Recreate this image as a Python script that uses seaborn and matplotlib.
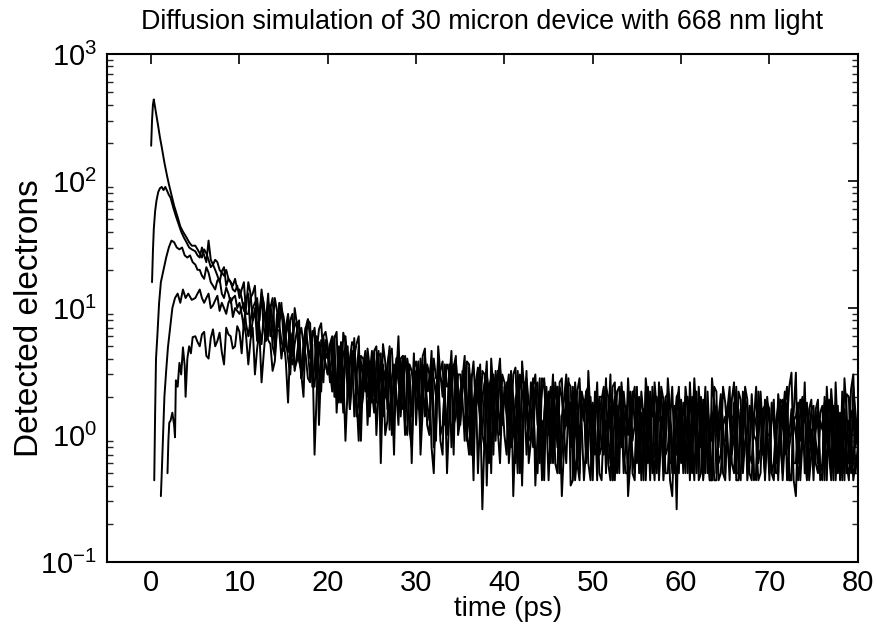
import numpy as np
import pandas as pd
import matplotlib
matplotlib.use("Agg")
import matplotlib.pyplot as plt
import seaborn as sns
from matplotlib.ticker import LogLocator

# ---------------- data ----------------
title = "Diffusion simulation of 30 micron device with 668 nm light"
x_label = "time (ps)"
y_label = "Detected electrons"
x_ticks = [0, 10, 20, 30, 40, 50, 60, 70, 80]

# early (rising / peak) parts of the five curves
a_t = [0.0, 0.1, 0.2, 0.3, 0.4, 0.6, 0.8, 1.0, 1.2, 1.5, 1.8, 2.0, 2.3, 2.6, 3.0, 3.3, 3.6, 4.0, 4.3, 4.6]
a_v = [190, 300, 400, 440, 400, 330, 270, 220, 185, 140, 110, 95, 78, 64, 52, 44, 40, 36, 33, 31]
b_t = [0.1, 0.2, 0.3, 0.45, 0.6, 0.8, 1.0, 1.2, 1.4, 1.6, 1.8, 2.0, 2.2, 2.5, 2.8, 3.1, 3.4, 3.7, 4.0, 4.3, 4.6]
b_v = [16, 28, 42, 58, 70, 82, 88, 90, 85, 90, 84, 78, 74, 62, 53, 46, 40, 36, 33, 30, 29]
c_t = [0.35, 0.45, 0.55, 0.7, 0.9, 1.1, 1.4, 1.7, 2.0, 2.3, 2.6, 2.9, 3.2, 3.5, 3.8, 4.1, 4.4, 4.7]
c_v = [0.44, 1.5, 4.0, 6.0, 11, 16, 20, 25, 30, 34, 33, 30, 29, 30, 26, 25, 26, 23]
d_t = [1.1, 1.2, 1.3, 1.4, 1.5, 1.7, 1.9, 2.1, 2.4, 2.7, 3.0, 3.3, 3.6, 3.9, 4.2, 4.6]
d_v = [0.33, 0.5, 0.8, 1.3, 2.0, 3.2, 4.9, 6.5, 10, 12, 13, 11, 14, 12, 13, 11.6]
e_t = [1.85, 1.95, 2.05, 2.2, 2.4, 2.6, 2.7, 2.8, 3.0, 3.2, 3.4, 3.6, 3.8, 3.9, 4.1, 4.3, 4.5, 4.7]
e_v = [0.5, 0.9, 1.25, 1.3, 1.5, 1.2, 0.96, 2.7, 2.4, 3.7, 3.0, 4.9, 3.5, 2.0, 4.0, 5.0, 4.4, 5.9]

# noisy tails: first list sampled at 5.0, 5.5, ... 80.0 ps; second list at 5.25, 5.75, ... 79.75 ps
tail_start, tail_step, tail_offset = 5.0, 0.5, 0.25
a_tail = [31, 27, 29, 24, 22, 23, 19, 20, 16, 17,
          14, 9.5, 16, 8, 11, 13, 6.5, 10, 6, 11,
          7.5, 4.5, 9, 3.8, 7, 4.2, 2.6, 7, 3.2, 6,
          5, 2.2, 6.5, 3, 4.8, 1.6, 4.2, 6, 2, 3.8,
          1.8, 5, 3.2, 1.0, 4.2, 2.2, 6, 1.6, 3.2, 0.8,
          3.8, 1.6, 4.8, 1.0, 2.8, 4.0, 0.7, 2.4, 4.6, 1.4,
          3.0, 0.9, 3.6, 1.8, 0.5, 3.2, 1.4, 4.0, 1.0, 2.6,
          2.0, 0.6, 3.0, 1.2, 3.8, 0.7, 1.9, 0.4, 2.8, 1.5,
          1.0, 3.0, 0.5, 2.0, 1.2, 0.4, 2.6, 0.8, 1.8, 3.2,
          0.6, 1.8, 0.44, 2.4, 1.0, 2.0, 0.5, 1.4, 2.8, 0.7,
          1.6, 0.5, 2.2, 0.44, 1.3, 2.6, 0.6, 1.7, 0.33, 2.0,
          0.9, 2.4, 0.5, 1.5, 0.44, 1.9, 0.7, 2.8, 0.5, 1.4,
          0.44, 1.8, 1.0, 0.5, 2.2, 0.6, 1.4, 0.44, 1.9, 0.5,
          1.2, 0.44, 1.7, 0.5, 2.4, 0.44, 1.0, 1.6, 0.5, 1.3,
          0.44, 1.9, 0.6, 0.44, 1.4, 2.6, 0.5, 1.1, 0.44, 1.6,
          0.8]
a_tail2 = [29, 25, 27, 21, 24, 20, 18, 17, 15, 14,
           12, 10, 13, 9, 8, 11, 7.5, 12, 7, 9,
           5, 8, 3.4, 6, 5.2, 2.8, 5.8, 4.4, 2.2, 6.5,
           3.2, 5.8, 1.8, 4.4, 3.6, 2.6, 5.2, 1.5, 4.0, 2.8,
           4.6, 2.0, 3.6, 1.3, 4.8, 2.8, 1.8, 4.2, 1.1, 3.4,
           2.2, 4.2, 1.2, 3.4, 2.0, 0.9, 3.6, 2.6, 1.2, 3.0,
           1.9, 3.8, 0.7, 2.6, 1.4, 3.0, 0.6, 2.2, 3.2, 1.2,
           2.6, 1.1, 3.4, 0.5, 2.2, 1.4, 2.8, 1.0, 0.44, 2.4,
           1.5, 0.6, 2.4, 1.1, 2.8, 0.44, 1.7, 2.2, 0.7, 1.4,
           2.2, 0.5, 1.3, 2.0, 0.44, 1.6, 2.6, 0.8, 1.2, 0.5,
           1.9, 0.8, 1.4, 2.4, 0.5, 1.0, 1.8, 0.44, 1.2, 2.2,
           0.6, 1.6, 0.9, 2.2, 0.5, 1.3, 0.44, 1.8, 1.0, 0.5,
           1.5, 0.7, 2.4, 0.44, 1.2, 1.7, 0.5, 1.4, 0.8, 2.0,
           0.5, 1.3, 0.8, 1.8, 0.44, 1.4, 0.6, 2.0, 0.5, 1.0,
           1.6, 0.5, 1.2, 1.9, 0.44, 1.0, 2.2, 0.6, 1.5, 0.5]
b_tail = [28, 25, 26, 34, 22, 18, 19.5, 15, 16, 13.5,
          12, 16, 9, 13, 7, 14, 8, 6, 12, 7,
          5.5, 9, 4.2, 7.5, 3.2, 7, 5.8, 2.4, 6.8, 4.2,
          3.0, 6, 2.6, 1.8, 5.4, 3.6, 1.4, 5, 3.4, 2.0,
          4.6, 2.4, 1.3, 3.8, 3.0, 0.7, 4.2, 2.6, 3.6, 1.6,
          1.2, 3.2, 4.2, 2.2, 0.8, 3.4, 2.6, 1.0, 3.0, 3.8,
          1.5, 2.8, 0.7, 3.8, 2.0, 1.0, 3.0, 0.5, 2.2, 3.4,
          1.0, 2.6, 1.6, 0.5, 2.2, 3.2, 0.9, 2.0, 0.6, 2.6,
          1.8, 0.6, 2.4, 1.4, 3.0, 0.8, 0.44, 2.2, 1.3, 0.6,
          1.8, 2.6, 0.8, 0.5, 1.7, 0.6, 2.4, 1.2, 0.33, 1.9,
          0.6, 1.5, 2.8, 0.9, 0.44, 1.7, 1.1, 0.5, 2.4, 0.7,
          1.6, 0.5, 1.2, 2.2, 0.7, 0.44, 1.6, 0.9, 2.2, 0.5,
          1.4, 0.6, 2.6, 0.5, 1.5, 0.44, 2.1, 0.9, 0.5, 1.7,
          0.5, 1.9, 0.8, 1.4, 0.44, 1.1, 3.1, 0.6, 1.3, 0.44,
          1.4, 0.6, 1.7, 2.4, 0.5, 0.9, 1.4, 0.44, 2.0, 0.6,
          1.0]
b_tail2 = [26, 30, 23, 24, 20, 16, 21, 17, 14, 15,
           14, 9, 12, 15, 8, 10, 13, 7, 9.5, 11,
           7, 6, 10, 3.8, 5.4, 8.2, 3.0, 4.6, 7.6, 3.6,
           5.2, 2.2, 4.8, 6.4, 2.0, 4.2, 2.8, 0.9, 4.6, 3.0,
           2.0, 3.6, 5.2, 1.6, 2.4, 4.0, 1.4, 3.4, 2.0, 4.4,
           3.0, 1.8, 2.4, 4.6, 1.1, 2.8, 1.8, 3.6, 0.7, 2.4,
           3.2, 1.0, 2.6, 1.6, 3.6, 0.8, 2.2, 3.0, 1.4, 2.0,
           0.7, 2.4, 1.3, 3.0, 1.6, 0.6, 2.4, 1.4, 2.8, 1.1,
           2.4, 1.0, 0.5, 1.9, 1.3, 2.4, 0.7, 1.6, 2.2, 0.44,
           1.2, 0.7, 2.0, 1.5, 0.44, 2.2, 0.9, 1.7, 0.6, 2.4,
           1.2, 0.44, 1.8, 0.8, 1.4, 2.2, 0.5, 1.3, 0.7, 1.9,
           0.9, 2.0, 0.5, 1.3, 1.8, 0.7, 1.1, 2.4, 0.44, 1.2,
           0.8, 1.9, 0.5, 1.2, 2.0, 0.7, 1.0, 0.44, 1.6, 1.1,
           1.4, 0.6, 1.1, 2.2, 0.8, 1.5, 0.44, 1.2, 1.8, 0.7,
           0.9, 1.5, 0.44, 1.1, 1.7, 0.6, 1.2, 2.1, 0.5, 1.3]
c_tail = [22, 20, 17, 19, 15, 16.5, 13, 14.5, 11, 12.5,
          11, 7, 13, 8, 5.5, 12, 5.5, 9.5, 4.2, 9,
          8.5, 4.0, 6.2, 7.8, 2.8, 5.6, 7.6, 3.6, 1.2, 5.8,
          4.6, 2.6, 1.5, 5.4, 4.0, 2.2, 5.8, 1.8, 4.0, 4.8,
          2.2, 3.8, 0.6, 3.2, 5.0, 1.5, 2.6, 4.2, 1.0, 3.2,
          2.4, 0.7, 3.4, 2.8, 1.4, 5.0, 2.0, 0.5, 3.2, 2.2,
          2.2, 4.2, 1.4, 0.7, 2.8, 2.0, 0.4, 2.8, 3.2, 1.0,
          2.6, 1.2, 0.33, 2.0, 1.0, 2.8, 1.4, 2.4, 0.8, 0.44,
          1.2, 2.2, 0.8, 2.8, 0.6, 1.8, 1.3, 2.8, 0.44, 1.4,
          1.0, 0.44, 2.0, 1.3, 0.6, 2.6, 1.2, 0.5, 1.9, 0.9,
          2.4, 1.0, 0.44, 1.8, 0.7, 1.3, 0.44, 2.8, 0.8, 1.5,
          0.6, 1.3, 2.6, 0.44, 1.8, 1.0, 0.5, 1.5, 0.44, 2.1,
          0.9, 2.4, 0.5, 1.6, 0.7, 1.9, 0.44, 1.2, 2.2, 0.5,
          1.6, 0.6, 0.44, 1.9, 0.8, 1.6, 0.33, 0.9, 1.8, 0.6,
          0.7, 1.3, 0.44, 0.9, 1.9, 0.44, 1.5, 2.8, 0.6, 0.44,
          0.6]
c_tail2 = [20, 18, 21, 16, 14, 17, 12, 13, 12, 10,
           9, 12, 6, 10, 9, 7, 11, 5, 7, 10,
           6, 3.0, 7.2, 5.0, 4.4, 8.0, 2.4, 6.0, 3.4, 4.0,
           3.4, 6.0, 3.0, 2.2, 5.0, 3.2, 1.4, 4.2, 2.6, 3.4,
           1.5, 4.6, 2.4, 3.4, 1.0, 3.8, 2.0, 1.2, 3.6, 2.2,
           3.8, 1.6, 2.2, 4.0, 0.9, 3.0, 2.4, 1.4, 3.6, 1.2,
           2.8, 1.0, 3.0, 2.2, 1.2, 2.6, 1.8, 0.7, 2.0, 3.0,
           1.5, 3.2, 1.1, 0.6, 2.4, 1.8, 0.8, 2.6, 1.3, 2.0,
           0.6, 1.6, 2.6, 1.0, 1.8, 0.5, 2.2, 1.2, 0.8, 2.0,
           1.5, 2.0, 0.7, 1.0, 2.4, 0.5, 1.6, 0.9, 2.2, 1.2,
           0.5, 1.6, 1.2, 0.6, 2.0, 1.4, 0.8, 1.6, 0.5, 2.4,
           1.8, 0.5, 1.0, 1.7, 0.8, 2.4, 1.2, 0.44, 1.4, 0.9,
           1.6, 0.6, 1.3, 0.9, 2.4, 0.5, 1.5, 0.8, 1.1, 1.8,
           0.5, 1.2, 1.8, 0.7, 1.0, 0.44, 1.3, 1.9, 0.5, 1.1,
           1.1, 0.5, 1.7, 0.7, 1.2, 0.9, 0.44, 1.5, 1.1, 0.6]
d_tail = [12, 14, 11, 13, 10.5, 12.5, 11, 9, 12, 10,
          9, 11, 6, 10, 12, 5.2, 8.5, 10.5, 4.8, 7.5,
          4.6, 7.8, 3.6, 6.6, 2.8, 7.0, 4.0, 6.0, 2.0, 4.8,
          3.0, 5.6, 2.0, 4.6, 0.9, 4.0, 5.0, 1.8, 3.4, 1.2,
          3.8, 1.8, 4.4, 2.4, 1.1, 3.6, 1.6, 4.2, 2.4, 1.4,
          3.2, 1.1, 2.6, 1.3, 4.0, 2.8, 1.2, 3.6, 0.8, 2.8,
          1.2, 2.6, 3.4, 0.44, 2.0, 1.0, 3.8, 1.5, 2.4, 0.6,
          1.8, 3.0, 1.0, 2.4, 0.5, 1.5, 2.6, 0.7, 1.6, 2.8,
          0.44, 1.6, 2.4, 0.7, 1.8, 2.4, 1.0, 0.5, 1.9, 0.9,
          1.6, 0.8, 1.5, 2.8, 0.44, 1.3, 1.8, 0.7, 0.5, 2.2,
          1.3, 0.44, 1.6, 2.2, 1.5, 0.5, 1.9, 0.8, 0.5, 1.4,
          1.9, 0.7, 0.44, 1.4, 2.4, 0.6, 1.5, 0.44, 1.1, 1.8,
          0.5, 1.3, 1.8, 0.44, 1.1, 1.6, 0.6, 2.4, 0.8, 0.44,
          1.0, 1.5, 0.5, 1.2, 1.8, 0.5, 1.4, 0.44, 2.6, 0.9,
          1.7, 0.5, 1.1, 1.5, 0.44, 1.7, 0.7, 0.5, 1.3, 2.4,
          0.9]
d_tail2 = [13, 12, 12, 10, 11.5, 9.5, 10, 11, 8.5, 9.5,
           10, 7.5, 8, 11, 7, 9, 6, 8, 9, 5.5,
           6.2, 4.0, 5.2, 8.0, 3.4, 5.0, 6.6, 3.0, 5.6, 3.6,
           4.6, 2.0, 5.0, 3.2, 2.4, 5.4, 3.0, 2.0, 4.4, 2.6,
           2.6, 4.2, 1.4, 3.4, 2.8, 1.9, 4.0, 1.2, 3.0, 2.2,
           2.0, 3.6, 1.8, 2.2, 2.8, 1.0, 2.4, 3.2, 1.6, 1.9,
           2.4, 0.9, 1.8, 2.6, 1.4, 2.2, 0.8, 2.8, 1.1, 1.9,
           2.2, 0.8, 1.9, 1.2, 2.6, 1.0, 1.8, 0.5, 2.2, 1.4,
           1.2, 2.2, 0.5, 1.4, 2.6, 0.8, 1.5, 1.9, 0.6, 1.6,
           0.7, 1.9, 1.1, 0.6, 1.9, 1.0, 2.4, 0.5, 1.4, 1.2,
           2.0, 1.0, 0.6, 1.4, 0.9, 2.4, 0.7, 1.3, 1.7, 0.5,
           1.1, 1.4, 2.0, 0.5, 1.2, 1.7, 0.44, 1.9, 0.8, 1.3,
           1.7, 0.8, 0.44, 1.5, 1.9, 0.7, 1.3, 0.6, 1.6, 1.0,
           1.3, 0.5, 1.9, 0.8, 0.44, 1.3, 1.8, 0.9, 0.6, 1.6,
           0.6, 1.3, 1.8, 0.7, 1.0, 0.5, 1.4, 1.0, 0.6, 1.5]
e_tail = [6, 5, 6.5, 4, 6.8, 5.5, 4.5, 7, 6, 5,
          6.5, 8, 3.6, 7, 4.8, 2.6, 7.2, 5.2, 3.8, 6.6,
          5.6, 1.8, 6.4, 4.2, 3.0, 7.0, 2.8, 0.7, 5.4, 2.6,
          4.2, 5.2, 2.0, 3.4, 6.0, 1.6, 4.2, 0.9, 3.0, 4.2,
          3.2, 1.0, 3.8, 2.0, 4.6, 3.0, 1.2, 2.6, 4.0, 0.6,
          2.8, 4.0, 1.4, 3.0, 0.5, 2.6, 3.8, 1.4, 2.2, 4.2,
          1.3, 3.2, 2.4, 1.0, 3.4, 0.26, 2.0, 2.8, 0.9, 4.0,
          2.4, 0.7, 2.0, 3.2, 0.4, 1.9, 1.0, 3.0, 2.0, 0.8,
          2.2, 0.8, 1.7, 0.33, 2.4, 1.0, 2.0, 0.44, 1.3, 2.4,
          0.44, 1.5, 1.9, 0.7, 3.0, 0.44, 1.2, 2.2, 1.0, 0.5,
          1.8, 2.2, 0.7, 1.2, 2.6, 0.44, 1.4, 2.1, 0.6, 0.26,
          1.4, 2.0, 0.6, 2.8, 0.5, 1.3, 2.2, 0.44, 1.7, 0.7,
          1.8, 0.44, 1.4, 2.2, 0.5, 1.1, 1.7, 0.5, 1.4, 1.9,
          0.44, 1.2, 2.1, 0.44, 1.3, 3.1, 0.6, 1.9, 0.7, 1.6,
          0.7, 1.7, 0.5, 1.2, 2.3, 0.6, 0.44, 1.6, 0.9, 3.0,
          1.1]
e_tail2 = [5.4, 6.2, 4.2, 5.8, 5.0, 6.4, 3.6, 6.2, 4.8, 7.2,
           4.4, 6.0, 5.6, 3.0, 6.6, 4.4, 5.6, 3.2, 6.8, 4.0,
           3.8, 5.0, 3.2, 6.0, 2.0, 4.6, 5.2, 2.2, 3.8, 5.6,
           2.6, 3.2, 4.8, 1.5, 3.6, 4.6, 2.0, 3.8, 2.2, 1.4,
           4.4, 2.2, 1.8, 3.6, 1.4, 2.2, 3.8, 1.0, 3.0, 2.4,
           1.6, 2.4, 3.6, 0.8, 2.0, 3.2, 1.2, 2.8, 3.4, 1.0,
           2.2, 1.6, 0.7, 2.6, 1.8, 1.0, 2.4, 1.6, 2.8, 1.2,
           1.4, 2.8, 0.6, 1.6, 2.2, 0.9, 2.4, 1.2, 0.5, 1.8,
           1.0, 2.6, 1.4, 0.8, 1.4, 2.2, 0.6, 1.8, 2.2, 0.8,
           1.8, 0.7, 2.4, 1.2, 0.6, 1.7, 0.8, 1.4, 2.0, 0.44,
           0.8, 1.4, 2.4, 0.5, 1.6, 1.0, 2.0, 0.6, 1.3, 1.7,
           0.5, 1.7, 1.0, 1.4, 2.0, 0.5, 0.9, 1.6, 0.6, 2.4,
           1.0, 1.4, 0.6, 1.9, 0.9, 1.5, 0.44, 2.2, 0.7, 1.2,
           1.8, 0.7, 1.4, 0.9, 2.4, 0.6, 1.5, 1.1, 0.44, 1.9,
           1.2, 0.44, 2.0, 0.8, 1.3, 1.7, 0.7, 0.5, 2.3, 0.8]

# ---------------- build a long table ----------------
early = {"A": (a_t, a_v), "B": (b_t, b_v), "C": (c_t, c_v), "D": (d_t, d_v), "E": (e_t, e_v)}
tails = {"A": (a_tail, a_tail2), "B": (b_tail, b_tail2), "C": (c_tail, c_tail2),
         "D": (d_tail, d_tail2), "E": (e_tail, e_tail2)}
frames = []
for name in ["A", "B", "C", "D", "E"]:
    t0, v0 = early[name]
    t1_vals, t2_vals = tails[name]
    tt1 = tail_start + tail_step * np.arange(len(t1_vals))
    tt2 = tail_start + tail_offset + tail_step * np.arange(len(t2_vals))
    df = pd.DataFrame({"t": list(t0) + list(tt1) + list(tt2),
                       "v": list(v0) + list(t1_vals) + list(t2_vals)})
    df["curve"] = name
    frames.append(df.sort_values("t").reset_index(drop=True))

sns.set_theme(style="white")
plt.rcParams["font.family"] = ["Liberation Sans", "DejaVu Sans"]
plt.rcParams["mathtext.fontset"] = "custom"
plt.rcParams["mathtext.rm"] = "Liberation Sans"
plt.rcParams["mathtext.it"] = "Liberation Sans"

fig = plt.figure(figsize=(8.77, 6.30), dpi=100)
ax = fig.add_axes([0.122, 0.108, 0.856, 0.806])

for df in frames:
    sns.lineplot(data=df, x="t", y="v", ax=ax, color="black", linewidth=1.4,
                 estimator=None, sort=False, legend=False)

ax.set_yscale("log")
ax.set_xlim(-5, 80)
ax.set_ylim(0.1, 1000)
ax.set_xticks(x_ticks)
ax.yaxis.set_major_locator(LogLocator(base=10, numticks=10))
ax.yaxis.set_minor_locator(LogLocator(base=10, subs=np.arange(2, 10), numticks=20))

ax.tick_params(axis="both", which="major", direction="in", length=7, width=1.2,
               top=True, right=True, labelsize=21, colors="black", pad=7)
ax.tick_params(axis="x", which="major", pad=5)
ax.tick_params(axis="y", which="minor", direction="in", length=4, width=1.0,
               left=True, right=True)
for s in ax.spines.values():
    s.set_color("black")
    s.set_linewidth(1.5)

ax.set_title(title, fontsize=19.4, pad=18, color="black")
ax.set_xlabel(x_label, fontsize=20, color="black")
ax.xaxis.set_label_coords(0.534, -0.068)
ax.set_ylabel(y_label, fontsize=24, color="black")
ax.yaxis.set_label_coords(-0.082, 0.48)

fig.savefig("out.png", dpi=100, facecolor="white")
